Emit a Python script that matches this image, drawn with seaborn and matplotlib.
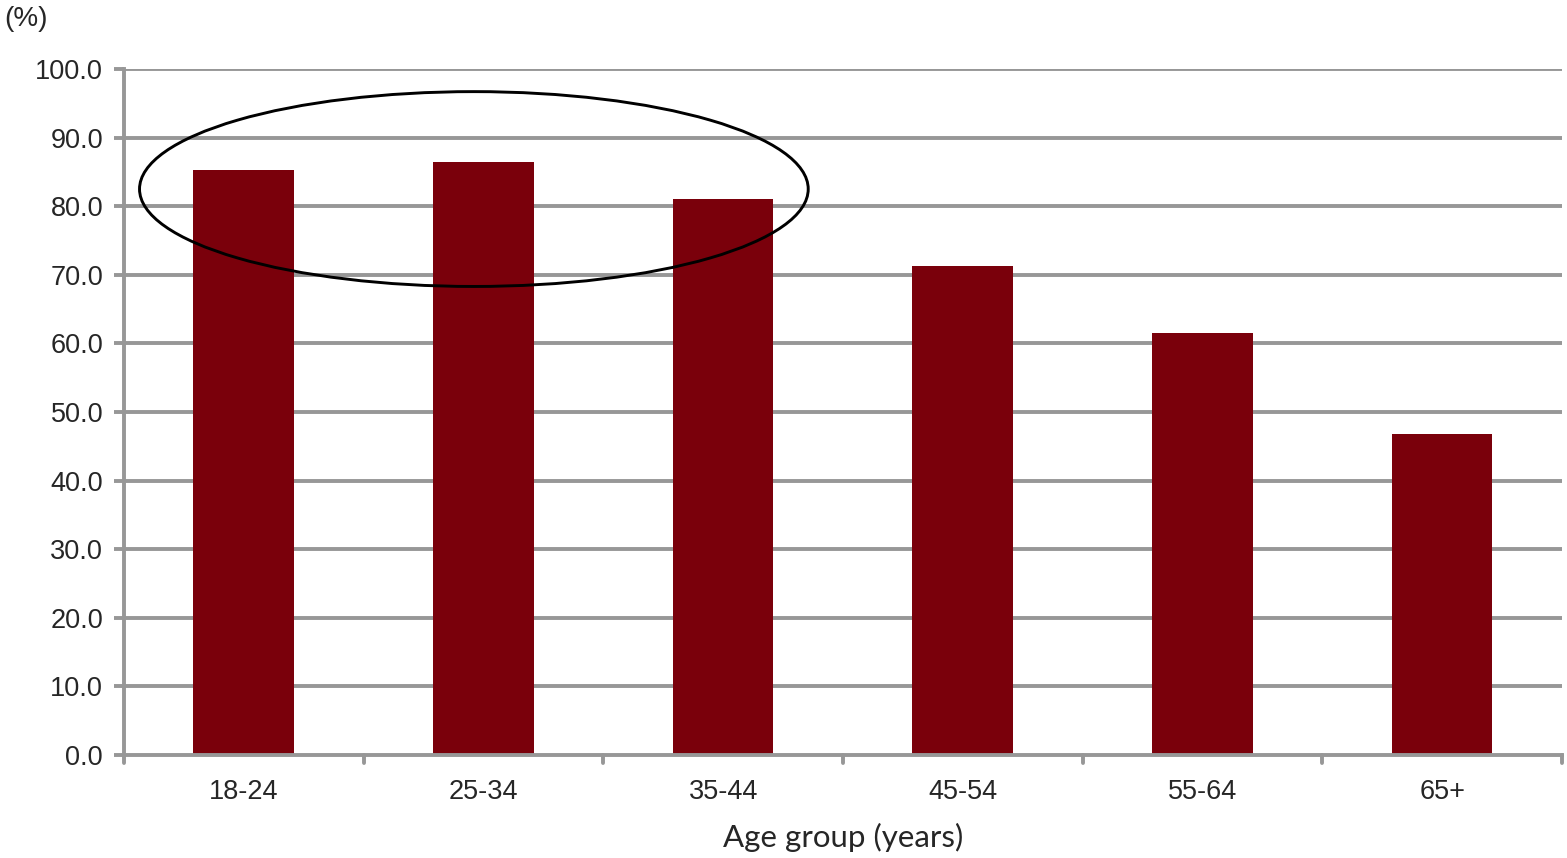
import matplotlib
matplotlib.use("Agg")
import matplotlib.pyplot as plt
from matplotlib.patches import Ellipse
import seaborn as sns
import pandas as pd

age_groups = ["18-24", "25-34", "35-44", "45-54", "55-64", "65+"]
share_pct = [85.3, 86.4, 81.0, 71.3, 61.5, 46.8]
y_ticks = [0, 10, 20, 30, 40, 50, 60, 70, 80, 90, 100]

df = pd.DataFrame({"age": age_groups, "pct": share_pct})

sns.set_theme(style="white")
plt.rcParams["font.family"] = ["Liberation Sans", "DejaVu Sans"]

grid_grey = "#979797"
bar_red = "#7a000b"

fig = plt.figure(figsize=(15.67, 8.58), dpi=100)
ax = fig.add_axes([0.0791, 0.12, 0.9177, 0.7996])

sns.barplot(data=df, x="age", y="pct", color=bar_red, width=0.42,
            saturation=1, ax=ax, zorder=3, edgecolor="none")

ax.set_ylim(0, 100)
ax.set_xlim(-0.5, len(age_groups) - 0.5)
ax.set_yticks(y_ticks)
ax.set_yticklabels([f"{v:.1f}" for v in y_ticks], fontsize=19.5)

# gridlines
for v in y_ticks[1:]:
    ax.axhline(v, color=grid_grey, lw=2.8, zorder=1)

# category boundary ticks on x axis
ax.set_xticks(range(len(age_groups)))
ax.set_xticklabels(age_groups, fontsize=19.5)
ax.tick_params(axis="x", length=0, pad=17)
for b in [i - 0.5 for i in range(len(age_groups) + 1)]:
    ax.plot([b, b], [0, -1.2], color=grid_grey, lw=2.8, clip_on=False,
            solid_capstyle="round", zorder=2)

ax.tick_params(axis="y", length=7, width=2.8, color=grid_grey, pad=8,
               left=True, direction="out")

for side in ["top", "right"]:
    ax.spines[side].set_visible(False)
for side in ["left", "bottom"]:
    ax.spines[side].set_color(grid_grey)
    ax.spines[side].set_linewidth(2.8)
    ax.spines[side].set_zorder(4)

ax.set_ylabel("")
ax.set_xlabel("Age group (years)", fontsize=22.5, family=["Lato", "DejaVu Sans"],
              labelpad=13)

# highlight around the three youngest groups
ell = Ellipse((0.96, 82.5), width=2.79, height=28.4, fill=False,
              edgecolor="black", lw=2.1, zorder=5)
ax.add_patch(ell)

fig.text(0.003, 0.978, "(%)", fontsize=20, ha="left", va="center")

fig.savefig("out.png", dpi=100)
